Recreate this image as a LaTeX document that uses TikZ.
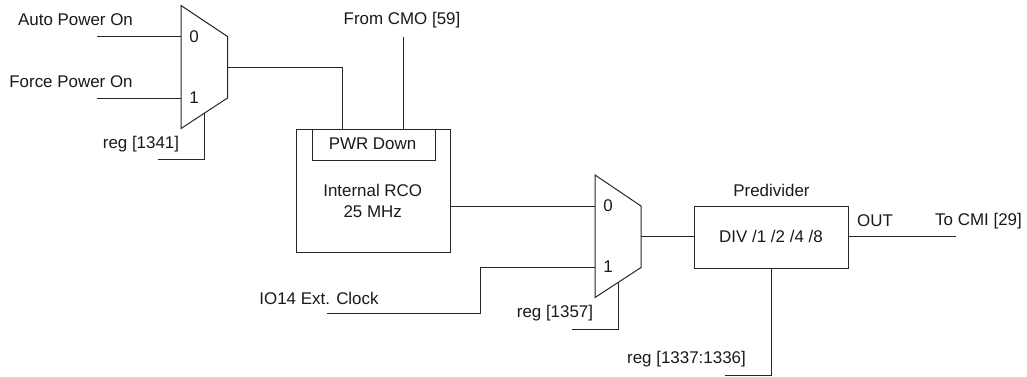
\documentclass[tikz,border=0pt]{standalone}
\usepackage{fontspec}
\setmainfont{Liberation Sans}
\usetikzlibrary{calc}
\tikzset{
  x=0.75pt,y=-0.75pt,
  wire/.style={draw=black!85,line width=0.75pt},
  blockbox/.style={draw=black!85,line width=0.75pt,inner sep=0pt,anchor=north west},
  lbl/.style={inner sep=0pt,font=\fontsize{12.7pt}{15.75pt}\selectfont,align=center,text=black!90},
}
\begin{document}
\begin{tikzpicture}
\useasboundingbox (0,0) rectangle (1027,376);
% mux outlines
\coordinate (m1tl) at (181,5.5);
\coordinate (m1tr) at (227.5,36.5);
\coordinate (m1br) at (227.5,98);
\coordinate (m1bl) at (181,128.5);
\draw[wire] (m1tl) -- (m1tr) -- (m1br) -- (m1bl) -- cycle;
\coordinate (m2tl) at (595,175);
\coordinate (m2tr) at (641,206);
\coordinate (m2br) at (641,267.5);
\coordinate (m2bl) at (595,297.5);
\draw[wire] (m2tl) -- (m2tr) -- (m2br) -- (m2bl) -- cycle;
% blocks
\node[blockbox,minimum width=153.5*0.75pt,minimum height=123*0.75pt] (rco) at (296,128.5) {};
\node[blockbox,minimum width=123*0.75pt,minimum height=31*0.75pt] (pwr) at (311.5,128.5) {};
\node[blockbox,minimum width=153.5*0.75pt,minimum height=61.5*0.75pt] (div) at (694.3,206) {};
% labels
\node[lbl] (tauto) at (75.5,20) {Auto Power On};
\node[lbl] (tforce) at (71,82) {Force Power On};
\node[lbl] (t0a) at (194,36.5) {0};
\node[lbl] (t1a) at (194,98) {1};
\node[lbl] (treg1) at (141,144) {reg [1341]};
\node[lbl] (tcmo) at (402,20) {From CMO [59]};
\node[lbl] (tpwr) at (372.5,143.5) {PWR Down};
\node[lbl] (trco) at (372.7,200.5) {Internal RCO\\25 MHz};
\node[lbl] (t0b) at (608,205.5) {0};
\node[lbl] (t1b) at (608,267) {1};
\node[lbl] (tio) at (319,298) {IO14 Ext. Clock};
\node[lbl] (treg2) at (555,313.5) {reg [1357]};
\node[lbl] (tpre) at (771.5,190) {Predivider};
\node[lbl] (tdiv) at (771,236.5) {DIV /1 /2 /4 /8};
\node[lbl] (tout) at (875,221) {OUT};
\node[lbl] (tcmi) at (978.5,221) {To CMI [29]};
\node[lbl] (treg3) at (686.5,359.5) {reg [1337:1336]};
% connector ends
\coordinate (a0) at (97,36.5);
\coordinate (a1) at (97,98);
\coordinate (a0e) at (181,36.5);
\coordinate (a1e) at (181,98);
\coordinate (mo) at (227.5,67);
\coordinate (pwrin) at (342,128.5);
\coordinate (cmo) at (403,36.5);
\coordinate (cmoe) at (403,128.5);
\coordinate (s1) at (204,113);
\coordinate (s1e) at (158,159.5);
\coordinate (rcoo) at (449.5,206);
\coordinate (b0e) at (595,206);
\coordinate (b1e) at (595,267.5);
\coordinate (io) at (327,313.3);
\coordinate (iok) at (480,313.3);
\coordinate (s2) at (618,282.5);
\coordinate (s2e) at (572,329);
\coordinate (m2o) at (641,236.5);
\coordinate (divi) at (694.3,236.5);
\coordinate (divo) at (847.8,236.5);
\coordinate (cmi) at (955.5,236.5);
\coordinate (d3) at (771,267.5);
\coordinate (d3e) at (725,375);
% connectors
\draw[wire] (a0) -- (a0e);
\draw[wire] (a1) -- (a1e);
\draw[wire] (mo) -| (pwrin);
\draw[wire] (cmo) -- (cmoe);
\draw[wire] (s1) |- (s1e);
\draw[wire] (rcoo) -- (b0e);
\draw[wire] (io) -- (iok) |- (b1e);
\draw[wire] (s2) |- (s2e);
\draw[wire] (m2o) -- (divi);
\draw[wire] (divo) -- (cmi);
\draw[wire] (d3) |- (d3e);
\end{tikzpicture}
\end{document}
